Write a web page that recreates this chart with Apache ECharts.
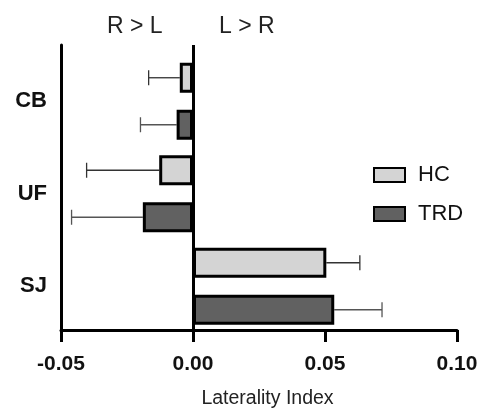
<!DOCTYPE html>
<html>
<head>
<meta charset="utf-8">
<script src="https://cdn.jsdelivr.net/npm/echarts@6/dist/echarts.min.js"></script>
<style>
  html, body { margin: 0; padding: 0; background: #fff; }
  #chart { width: 481px; height: 414px; }
</style>
</head>
<body>
<div id="chart"></div>
<script>
// data
const categories = ['CB', 'UF', 'SJ']
const hcMean = [-0.005, -0.0128, 0.0505]
const hcSem = [0.0118, 0.0275, 0.0127]
const trdMean = [-0.0062, -0.019, 0.0535]
const trdSem = [0.0137, 0.027, 0.0181]
const xTicks = [-0.05, 0.1, 0.05] // min, max, interval

const FONT = '"Liberation Sans", Arial, sans-serif'
const barW = 30
const barOffset = 23.5 // half distance between the two bar centres in a band

// error bar data: [mean, categoryIndex, sem]
function errData(mean, sem) {
  return mean.map((m, i) => [m, i, sem[i]])
}

function errRender(offset, color) {
  return function (params, api) {
    const m = api.value(0)
    const ci = api.value(1)
    const s = api.value(2)
    const end = m < 0 ? m - s : m + s
    const p0 = api.coord([m, ci])
    const p1 = api.coord([end, ci])
    const y = p0[1] + offset
    const cap = 7.5
    return {
      type: 'group',
      children: [
        { type: 'line', shape: { x1: p0[0], y1: y, x2: p1[0], y2: y }, style: { stroke: color, lineWidth: 1.3 } },
        { type: 'line', shape: { x1: p1[0], y1: y - cap, x2: p1[0], y2: y + cap }, style: { stroke: color, lineWidth: 1.3 } }
      ]
    }
  }
}

const chart = echarts.init(document.getElementById('chart'))

const option = {
  animation: false,
  textStyle: { fontFamily: FONT },
  grid: [
    { left: 61, right: 24, top: 45, bottom: 75 },
    { left: 61, right: 24, top: 55, bottom: 81.5 }
  ],
  legend: {
    data: ['HC', 'TRD'],
    orient: 'vertical',
    left: 368,
    top: 159,
    icon: 'rect',
    itemWidth: 31,
    itemHeight: 14,
    itemGap: 17,
    textStyle: { fontFamily: FONT, fontSize: 22, color: '#111', lineHeight: 22, padding: [0, 0, 0, 8] }
  },
  graphic: [
    { type: 'text', left: 107, top: 15, style: { text: 'R > L', font: '23px ' + FONT, fill: '#222' } },
    { type: 'text', left: 219, top: 15, style: { text: 'L > R', font: '23px ' + FONT, fill: '#222' } }
  ],
  xAxis: [
    {
      gridIndex: 0,
      type: 'value',
      min: xTicks[0],
      max: xTicks[1],
      interval: xTicks[2],
      name: 'Laterality Index',
      nameLocation: 'middle',
      nameGap: 59,
      nameTextStyle: { fontFamily: FONT, fontSize: 19.5, color: '#222', padding: [0, 0, 0, 17] },
      axisLine: { onZero: false, lineStyle: { color: '#000', width: 3 } },
      axisTick: { show: true, length: 12, lineStyle: { color: '#000', width: 3 } },
      axisLabel: {
        margin: 24,
        fontFamily: FONT,
        fontSize: 21,
        fontWeight: 'bold',
        color: '#111',
        formatter: v => v.toFixed(2)
      },
      splitLine: { show: false }
    },
    {
      gridIndex: 1,
      type: 'value',
      min: xTicks[0],
      max: xTicks[1],
      show: false
    }
  ],
  yAxis: [
    {
      gridIndex: 0,
      type: 'value',
      min: 0,
      max: 1,
      axisLine: { show: true, onZero: false, lineStyle: { color: '#000', width: 3 } },
      axisTick: { show: false },
      axisLabel: { show: false },
      splitLine: { show: false }
    },
    {
      gridIndex: 1,
      type: 'category',
      data: categories,
      inverse: true,
      axisLine: { show: false },
      axisTick: { show: false },
      axisLabel: { margin: 14, fontFamily: FONT, fontSize: 22, fontWeight: 'bold', color: '#111' }
    }
  ],
  series: [
    {
      // zero line
      type: 'line',
      xAxisIndex: 0,
      yAxisIndex: 0,
      data: [],
      markLine: {
        silent: true,
        symbol: 'none',
        label: { show: false },
        lineStyle: { color: '#000', width: 3, type: 'solid' },
        data: [{ xAxis: 0 }]
      }
    },
    {
      name: 'HC-err',
      type: 'custom',
      xAxisIndex: 1,
      yAxisIndex: 1,
      z: 1,
      encode: { x: 0, y: 1 },
      data: errData(hcMean, hcSem),
      renderItem: errRender(-barOffset, '#333')
    },
    {
      name: 'TRD-err',
      type: 'custom',
      xAxisIndex: 1,
      yAxisIndex: 1,
      z: 1,
      encode: { x: 0, y: 1 },
      data: errData(trdMean, trdSem),
      renderItem: errRender(barOffset, '#555')
    },
    {
      name: 'HC',
      type: 'bar',
      xAxisIndex: 1,
      yAxisIndex: 1,
      z: 3,
      barWidth: barW,
      barGap: '57%',
      data: hcMean,
      itemStyle: { color: '#d4d4d4', borderColor: '#000', borderWidth: 3, borderRadius: 0, borderJoin: 'miter' }
    },
    {
      name: 'TRD',
      type: 'bar',
      xAxisIndex: 1,
      yAxisIndex: 1,
      z: 3,
      barWidth: barW,
      barGap: '57%',
      data: trdMean,
      itemStyle: { color: '#616161', borderColor: '#000', borderWidth: 3, borderRadius: 0, borderJoin: 'miter' }
    }
  ]
}

chart.setOption(option)
</script>
</body>
</html>
